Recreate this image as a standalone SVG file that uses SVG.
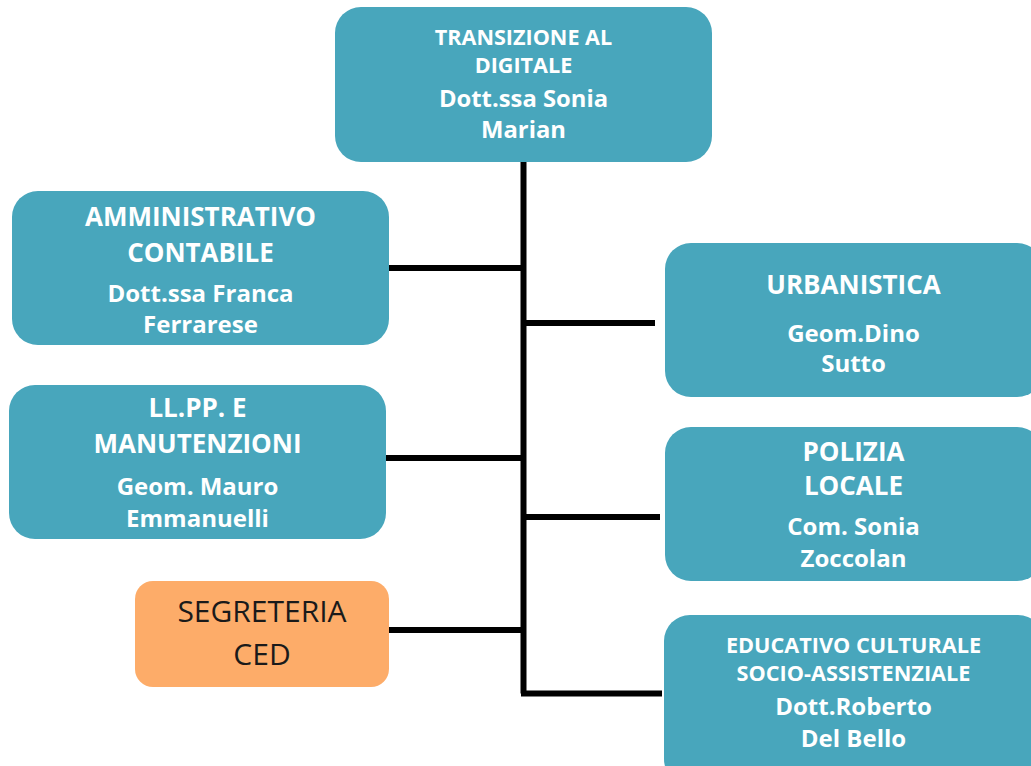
<svg xmlns="http://www.w3.org/2000/svg" width="1031" height="766" viewBox="0 0 1031 766">
<style>
.box{fill:#48A6BC}
.seg{fill:#FDAC69}
.t{font-family:"Open Sans","Noto Sans",sans-serif;font-weight:700;fill:#fff;text-anchor:middle}
.d{font-family:"Open Sans","Noto Sans",sans-serif;font-weight:400;fill:#1a1a1a;text-anchor:middle}
.ln{stroke:#000;stroke-width:6;fill:none}
</style>
<rect width="1031" height="766" fill="#fff"/>
<g id="connectors">
<path class="ln" d="M523.5 162V693.5"/>
<path class="ln" d="M389 268H523.5"/>
<path class="ln" d="M523.5 323H655"/>
<path class="ln" d="M386 458H523.5"/>
<path class="ln" d="M523.5 517H660"/>
<path class="ln" d="M389 630H523.5"/>
<path class="ln" d="M521 693.5H662"/>
</g>
<g id="transizione">
<rect class="box" x="335" y="7" width="377" height="155" rx="26"/>
<text class="t" font-size="21.6" x="523.5" y="45">TRANSIZIONE AL</text>
<text class="t" font-size="21.6" x="523.5" y="73">DIGITALE</text>
<text class="t" font-size="23.8" x="523.5" y="107">Dott.ssa Sonia</text>
<text class="t" font-size="23.8" x="523.5" y="138">Marian</text>
</g>
<g id="amministrativo">
<rect class="box" x="12" y="191" width="377" height="154" rx="26"/>
<text class="t" font-size="26" x="200.5" y="226">AMMINISTRATIVO</text>
<text class="t" font-size="26" x="200.5" y="262">CONTABILE</text>
<text class="t" font-size="24" x="200.5" y="302">Dott.ssa Franca</text>
<text class="t" font-size="24" x="200.5" y="333">Ferrarese</text>
</g>
<g id="llpp">
<rect class="box" x="9" y="385" width="377" height="154" rx="26"/>
<text class="t" font-size="26" x="197.5" y="417">LL.PP. E</text>
<text class="t" font-size="26" x="197.5" y="453">MANUTENZIONI</text>
<text class="t" font-size="24" x="197.5" y="495">Geom. Mauro</text>
<text class="t" font-size="24" x="197.5" y="527">Emmanuelli</text>
</g>
<g id="segreteria">
<rect class="seg" x="135" y="581" width="254" height="106" rx="18"/>
<text class="d" font-size="30" x="262" y="622">SEGRETERIA</text>
<text class="d" font-size="30" x="262" y="665">CED</text>
</g>
<g id="urbanistica">
<rect class="box" x="665" y="243" width="378" height="154" rx="26"/>
<text class="t" font-size="26" x="853.5" y="294">URBANISTICA</text>
<text class="t" font-size="24" x="853.5" y="342">Geom.Dino</text>
<text class="t" font-size="24" x="853.5" y="372">Sutto</text>
</g>
<g id="polizia">
<rect class="box" x="665" y="427" width="378" height="154" rx="26"/>
<text class="t" font-size="26" x="853.5" y="461">POLIZIA</text>
<text class="t" font-size="26" x="853.5" y="495">LOCALE</text>
<text class="t" font-size="24" x="853.5" y="535">Com. Sonia</text>
<text class="t" font-size="24" x="853.5" y="567">Zoccolan</text>
</g>
<g id="educativo">
<rect class="box" x="664" y="615" width="380" height="170" rx="26"/>
<text class="t" font-size="21.7" x="853.5" y="653">EDUCATIVO CULTURALE</text>
<text class="t" font-size="21.7" x="853.5" y="681">SOCIO-ASSISTENZIALE</text>
<text class="t" font-size="24" x="853.5" y="715">Dott.Roberto</text>
<text class="t" font-size="24" x="853.5" y="747">Del Bello</text>
</g>
</svg>
